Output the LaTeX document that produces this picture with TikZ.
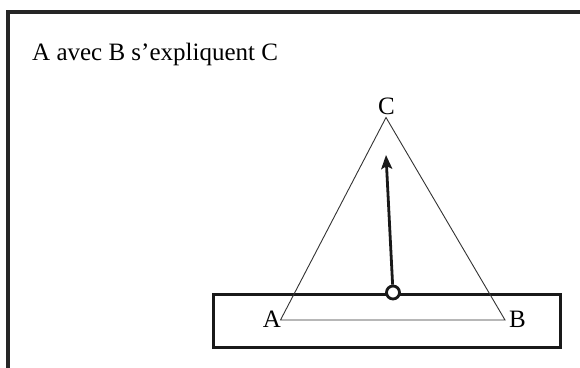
\documentclass[tikz,border=0pt]{standalone}
\usepackage{fontspec}
\setmainfont{Liberation Serif}
\usetikzlibrary{arrows.meta}
\begin{document}
\begin{tikzpicture}[x=1pt,y=-1pt,
  frame/.style={line width=3.2pt,draw=black!85},
  tri/.style={line width=0.9pt,draw=black!80},
  lbl/.style={font=\fontsize{25}{28}\selectfont,inner sep=0pt},
  pivot/.style={circle,draw=black!90,fill=white,line width=2.8pt,minimum size=13pt,inner sep=0pt},
  arr/.style={line width=2.8pt,draw=black!90,-{Stealth[length=14pt,width=11pt,inset=3pt]}}]
\useasboundingbox (0,0) rectangle (580,367);
\clip (0,0) rectangle (580,367);
\fill[white] (0,0) rectangle (580,367);
% outer frame (only top and left visible)
\coordinate (fbl) at (8,380);
\coordinate (ftl) at (8,12);
\coordinate (ftr) at (600,12);
\draw[frame] (fbl) -- (ftl) -- (ftr);
% title
\node[lbl,anchor=base west] (title) at (32,60) {A avec B s’expliquent C};
% base rectangle
\node[draw=black!90,line width=3.2pt,minimum width=347pt,minimum height=53pt,inner sep=0pt,anchor=north west] (base) at (212,292.5) {};
% triangle
\coordinate (va) at (280.5,320);
\coordinate (vb) at (505,320);
\coordinate (vc) at (386,117.5);
\draw[tri] (va) -- (vc) -- (vb) -- cycle;
\node[lbl,anchor=base east,xshift=0.5pt] (la) at (va |- 0,327) {A};
\node[lbl,anchor=base west] (lb) at (509,327) {B};
\node[lbl,anchor=base] (lc) at (386.5,114) {C};
% pivot and arrow
\node[pivot] (piv) at (393,292.5) {};
\coordinate (tip) at (386,155);
\draw[arr] (piv) -- (tip);
\end{tikzpicture}
\end{document}
